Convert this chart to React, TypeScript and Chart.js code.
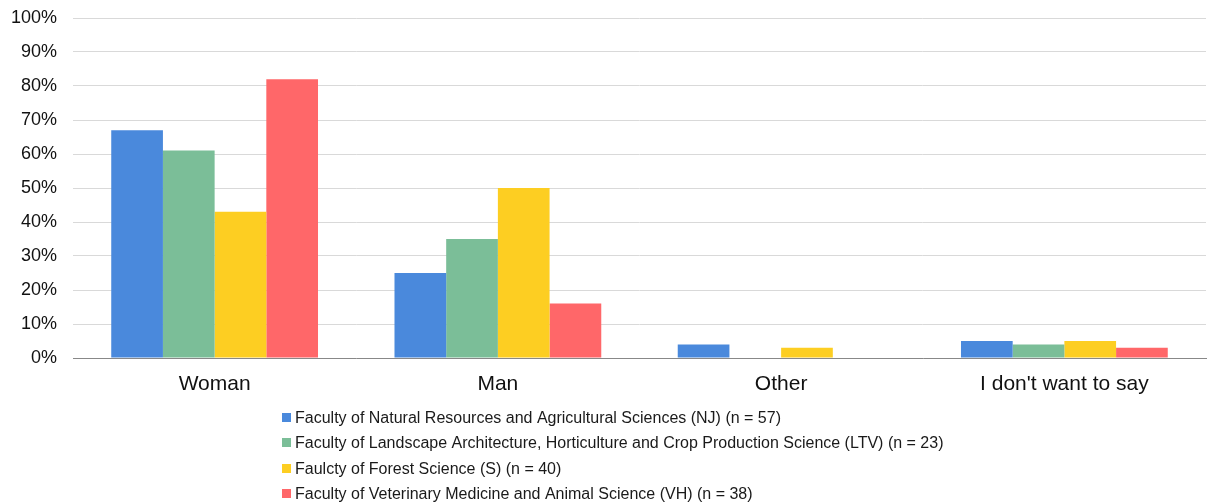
import React, { useEffect, useRef } from "react";
import { Chart, registerables } from "chart.js";

Chart.register(...registerables);

const categories = ["Woman", "Man", "Other", "I don't want to say"];
const seriesLabels = [
  "Faculty of Natural Resources and Agricultural Sciences (NJ) (n = 57)",
  "Faculty of Landscape Architecture, Horticulture and Crop Production Science (LTV) (n = 23)",
  "Faulcty of Forest Science (S) (n = 40)",
  "Faculty of Veterinary Medicine and Animal Science (VH) (n = 38)",
];
const njValues = [67, 25, 4, 5];
const ltvValues = [61, 35, 0, 4];
const sValues = [43, 50, 3, 5];
const vhValues = [82, 16, 0, 3];
const seriesColors = ["#4A89DC", "#7BBE98", "#FDCE22", "#FF6769"];
const yTicks = [0, 10, 20, 30, 40, 50, 60, 70, 80, 90, 100];

const FONT = "'Liberation Sans', Arial, sans-serif";

const legendPlugin = {
  id: "vertLegend",
  afterDraw(chart: any) {
    const ctx = chart.ctx;
    ctx.save();
    ctx.font = `16px ${FONT}`;
    ctx.textBaseline = "middle";
    ctx.textAlign = "left";
    chart.data.datasets.forEach((ds: any, i: number) => {
      const y = 417 + i * 25.5;
      ctx.fillStyle = ds.backgroundColor;
      ctx.fillRect(282, Math.round(y - 4.5), 9, 9);
      ctx.fillStyle = "#1a1a1a";
      ctx.fillText(ds.label, 295, y + 1.5);
    });
    ctx.restore();
  },
};

export default function App() {
  const ref = useRef<HTMLCanvasElement>(null);
  useEffect(() => {
    document.body.style.margin = "0";
    const values = [njValues, ltvValues, sValues, vhValues];
    const chart = new Chart(ref.current!, {
      type: "bar",
      data: {
        labels: categories,
        datasets: values.map((v, i) => ({
          label: seriesLabels[i],
          data: v,
          backgroundColor: seriesColors[i],
          borderWidth: 0,
          categoryPercentage: 0.73,
          barPercentage: 1,
        })),
      },
      options: {
        responsive: false,
        animation: false,
        layout: { padding: { top: 18, right: 17, left: 0, bottom: 0 } },
        plugins: { legend: { display: false }, tooltip: { enabled: false } },
        scales: {
          x: {
            grid: { display: false, drawTicks: false },
            border: { color: "#888", width: 1 },
            ticks: { color: "#111", font: { family: FONT, size: 21 }, padding: 14 },
            afterFit(scale: any) {
              scale.height = 146;
            },
          },
          y: {
            min: 0,
            max: 100,
            afterBuildTicks(scale: any) {
              scale.ticks = yTicks.map((v) => ({ value: v }));
            },
            grid: { color: "#d9d9d9", drawTicks: false },
            border: { display: false },
            ticks: {
              color: "#111",
              font: { family: FONT, size: 18 },
              padding: 16,
              callback: (v: any) => v + "%",
            },
            afterFit(scale: any) {
              scale.width = 73;
              scale.paddingTop = 0;
              scale.paddingBottom = 0;
            },
          },
        },
      },
      plugins: [legendPlugin],
    });
    return () => chart.destroy();
  }, []);
  return (
    <div style={{ width: 1223, height: 504 }}>
      <canvas ref={ref} width={1223} height={504} />
    </div>
  );
}
